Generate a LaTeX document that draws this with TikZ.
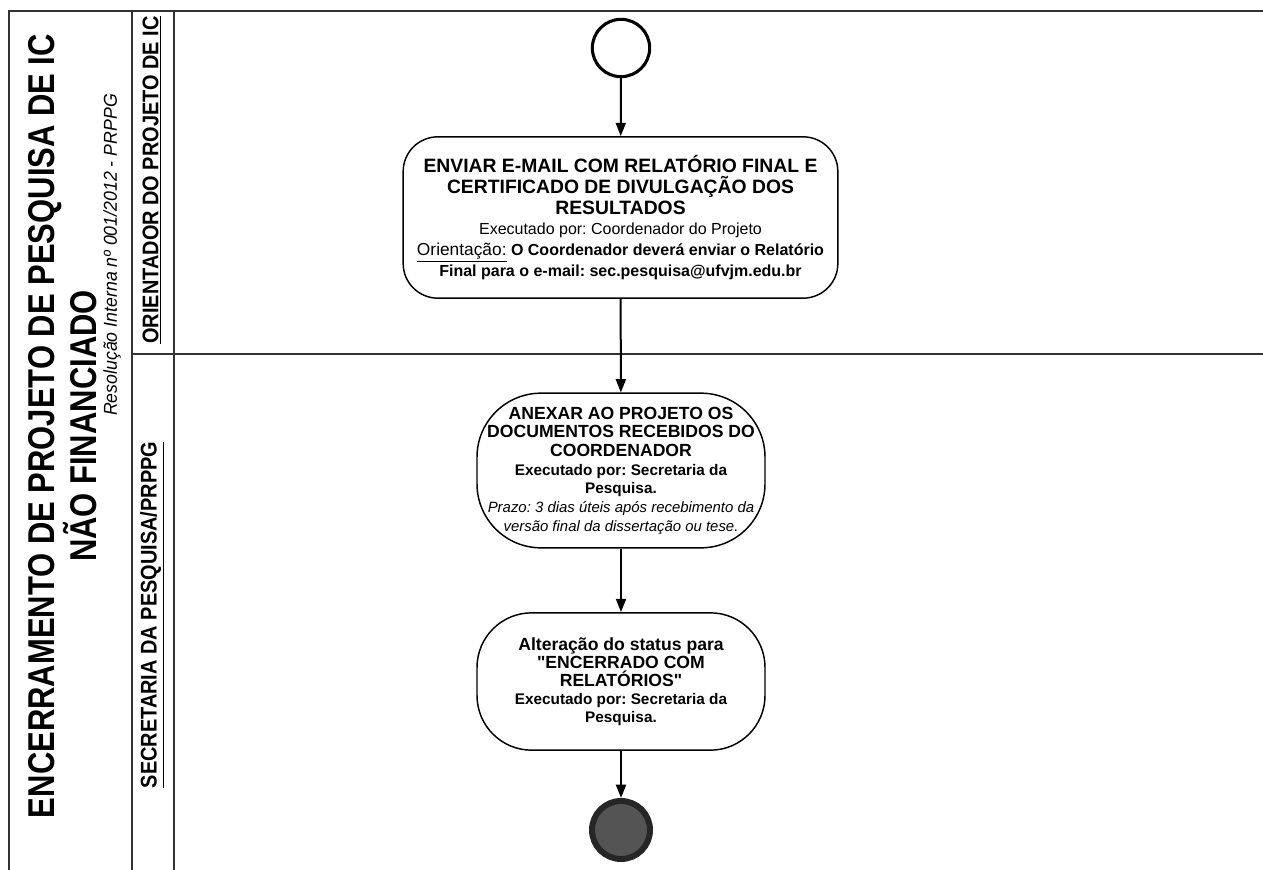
\documentclass[tikz,border=0pt]{standalone}
\usepackage{fontspec}
\setmainfont{Liberation Sans}
\newfontfamily\narrowsans[FakeStretch=0.83]{Liberation Sans}
\newfontfamily\lanesans[FakeStretch=0.88]{Liberation Sans}
\newfontfamily\subsans[FakeStretch=0.95]{Liberation Sans}
\usetikzlibrary{arrows.meta}
\frenchspacing
\tikzset{
    frame/.style={line width=1.5pt, draw=black!80},
    lanelabel/.style={rotate=90, font=\lanesans\bfseries\fontsize{17}{20}\selectfont},
    activity/.style={draw, line width=1.1pt, align=center, inner sep=0pt},
    flow/.style={-{Triangle[width=7.5pt,length=10pt]}, line width=1.5pt},
}
\begin{document}
\begin{tikzpicture}[x=0.75pt,y=-0.75pt]
                \useasboundingbox (0,0) rectangle (1263,870);
                \draw[frame] (1263,11) -- (9,11) -- (9,870);
                \draw[frame] (132,11) -- (132,870);
                \draw[frame] (174,11) -- (174,870);
                \draw[frame] (132,354) -- (1263,354);
                \node[rotate=90, align=center, font=\narrowsans\bfseries\fontsize{28}{29}\selectfont] (title) at (63,426)
                    {ENCERRAMENTO DE PROJETO DE PESQUISA DE IC\\NÃO FINANCIADO};
                \node[rotate=90, font=\subsans\itshape\fontsize{14}{16}\selectfont] (resolucao) at (112,255)
                    {Resolução Interna nº 001/2012 - PRPPG};
                \node[lanelabel] (orientador) at (152,180) {\underline{ORIENTADOR DO PROJETO DE IC}};
                \node[lanelabel] (secretaria) at (152,615) {\underline{SECRETARIA DA PESQUISA/PRPPG}};
                \node[circle, draw, line width=2.3pt, minimum size=43pt, inner sep=0pt] (inicio) at (621,48) {};
                \node[activity, rounded corners=26pt, minimum width=326pt, minimum height=121pt,
                      font=\fontsize{12}{15.5}\selectfont] (email) at (620.5,217.5)
                    {{\bfseries\fontsize{14.5}{16}\selectfont ENVIAR E-MAIL COM RELATÓRIO FINAL E}\\
                     {\bfseries\fontsize{14.5}{16}\selectfont CERTIFICADO DE DIVULGAÇÃO DOS}\\
                     {\bfseries\fontsize{14.5}{16}\selectfont RESULTADOS}\\
                     {\fontsize{12}{15}\selectfont Executado por: Coordenador do Projeto}\\
                     {\fontsize{13}{15}\selectfont\underline{Orientação:}}~{\bfseries\fontsize{12}{15}\selectfont O Coordenador deverá enviar o Relatório}\\
                     {\bfseries\fontsize{12}{15}\selectfont Final para o e-mail: sec.pesquisa@ufvjm.edu.br}};
                \node[activity, rounded corners=48pt, minimum width=216pt, minimum height=116pt,
                      font=\fontsize{11.5}{14}\selectfont] (anexar) at (621,470.5)
                    {{\bfseries\fontsize{13.2}{14}\selectfont ANEXAR AO PROJETO OS}\\
                     {\bfseries\fontsize{13.2}{14}\selectfont DOCUMENTOS RECEBIDOS DO}\\
                     {\bfseries\fontsize{13.2}{14}\selectfont COORDENADOR}\\
                     {\bfseries\fontsize{11.5}{14}\selectfont Executado por: Secretaria da}\\
                     {\bfseries\fontsize{11.5}{14}\selectfont Pesquisa.}\\
                     {\itshape\fontsize{11.2}{14}\selectfont Prazo: 3 dias úteis após recebimento da}\\
                     {\itshape\fontsize{11.2}{14}\selectfont versão final da dissertação ou tese.}};
                \node[activity, rounded corners=41pt, minimum width=216pt, minimum height=103pt,
                      font=\fontsize{11.5}{13.5}\selectfont] (status) at (621,681.5)
                    {{\bfseries\fontsize{13.2}{13.5}\selectfont Alteração do status para}\\
                     {\bfseries\fontsize{13.2}{13.5}\selectfont \textquotedbl ENCERRADO COM}\\
                     {\bfseries\fontsize{13.2}{13.5}\selectfont RELATÓRIOS\textquotedbl}\\
                     {\bfseries\fontsize{11.5}{13.5}\selectfont Executado por: Secretaria da}\\
                     {\bfseries\fontsize{11.5}{13.5}\selectfont Pesquisa.}};
                \node[circle, draw=black!85, fill=black!67, line width=4.5pt, minimum size=43.5pt, inner sep=0pt] (fim) at (621,830) {};
                \draw[flow] (inicio) -- (email);
                \draw[flow] (email) -- (anexar);
                \draw[flow] (anexar) -- (status);
                \draw[flow] (status) -- (fim);
            \end{tikzpicture}
\end{document}
